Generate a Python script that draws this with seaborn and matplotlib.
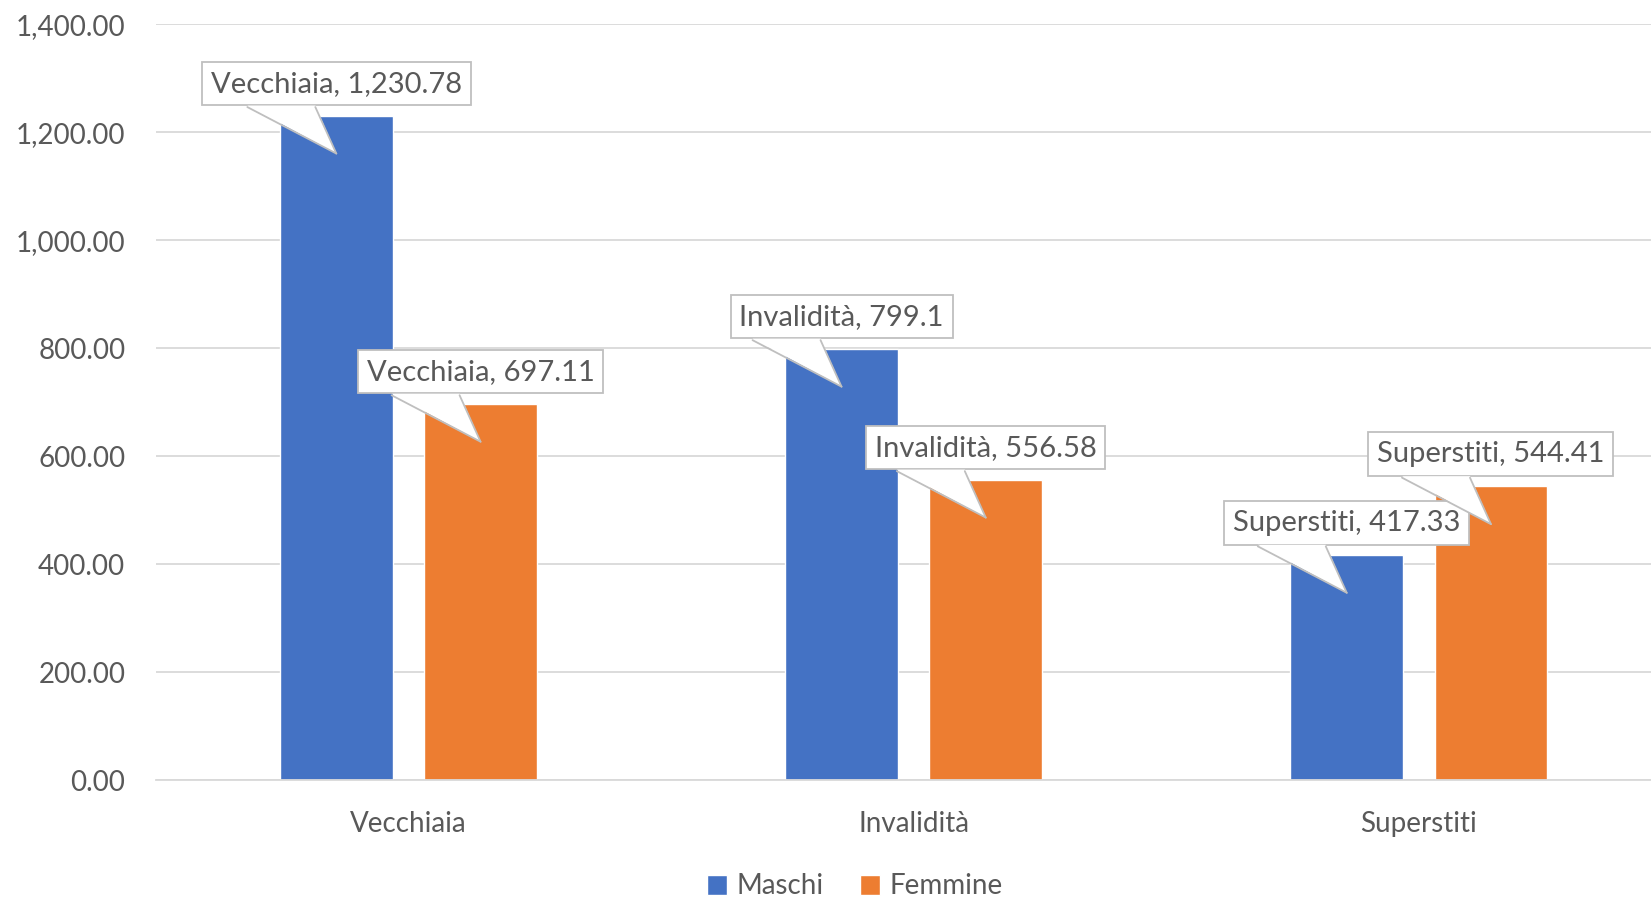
import matplotlib
matplotlib.use("Agg")
import matplotlib.pyplot as plt
import matplotlib.transforms as mtransforms
from matplotlib.patches import Polygon
from matplotlib.lines import Line2D
from matplotlib.ticker import FuncFormatter
import seaborn as sns
import pandas as pd

categories = ["Vecchiaia", "Invalidità", "Superstiti"]
series = ["Maschi", "Femmine"]
maschi = [1230.78, 799.10, 417.33]
femmine = [697.11, 556.58, 544.41]
colors = ["#4472C4", "#ED7D31"]

df = pd.DataFrame({
    "categoria": categories * 2,
    "sesso": [series[0]] * 3 + [series[1]] * 3,
    "valore": maschi + femmine,
})

sns.set_theme(style="white")
plt.rcParams["font.family"] = ["Lato", "DejaVu Sans"]

TXT = "#595959"
GRID = "#D9D9D9"

fig = plt.figure(figsize=(16.51, 8.99), dpi=100)
ax = fig.add_axes([0.0944, 0.1322, 0.918, 0.8409])

sns.barplot(data=df, x="categoria", y="valore", hue="sesso", palette=colors,
            width=0.571, gap=0.219, saturation=1, ax=ax, order=categories,
            hue_order=series, legend=True)

ax.set_ylim(0, 1400)
ax.set_xlim(-0.5, 2.5)
ax.set_yticks([0, 200, 400, 600, 800, 1000, 1200, 1400])
ax.yaxis.set_major_formatter(FuncFormatter(lambda v, p: f"{v:,.2f}"))
ax.grid(axis="y", color=GRID, linewidth=1.3)
ax.set_axisbelow(True)
for s in ["top", "right", "left"]:
    ax.spines[s].set_visible(False)
ax.spines["bottom"].set_color(GRID)
ax.spines["bottom"].set_linewidth(1.3)
ax.set_xlabel("")
ax.set_ylabel("")
ax.tick_params(axis="y", length=0, pad=22, labelsize=20, labelcolor=TXT)
ax.tick_params(axis="x", length=0, pad=22, labelsize=20, labelcolor=TXT)

handles, labels = ax.get_legend_handles_labels()
ax.get_legend().remove()
fig.legend(handles, labels, loc="center", bbox_to_anchor=(0.518, 0.014),
           ncol=2, frameon=False, fontsize=20, labelcolor=TXT,
           handlelength=0.72, handleheight=0.72, handletextpad=0.35,
           columnspacing=1.3)

def fmt(v):
    s = f"{v:,.2f}"
    s = s.rstrip("0").rstrip(".")
    return s

EDGE = "#BFBFBF"
box_center = 32
box_bottom = 8.5
tip = -38
for container in ax.containers:
    for bar, cat in zip(container.patches, categories):
        x = bar.get_x() + bar.get_width() / 2
        v = bar.get_height()
        ax.annotate(f"{cat}, {fmt(v)}", xy=(x, v), xytext=(0, box_center),
                    textcoords="offset pixels", ha="center", va="center",
                    fontsize=21, color=TXT, zorder=5,
                    bbox=dict(boxstyle="square,pad=0.3", fc="white",
                              ec=EDGE, lw=1.3))
        tr = mtransforms.Affine2D() + mtransforms.ScaledTranslation(x, v, ax.transData)
        poly = Polygon([(-89, box_bottom + 1.5), (-21, box_bottom + 1.5), (0, tip)],
                       closed=True, fc="white", ec="none", transform=tr, zorder=6)
        ax.add_patch(poly)
        for bx in (-89, -21):
            ln = Line2D([bx, 0], [box_bottom, tip], color=EDGE, lw=1.3,
                        transform=tr, zorder=7)
            ax.add_line(ln)

fig.savefig("out.png", dpi=100)
